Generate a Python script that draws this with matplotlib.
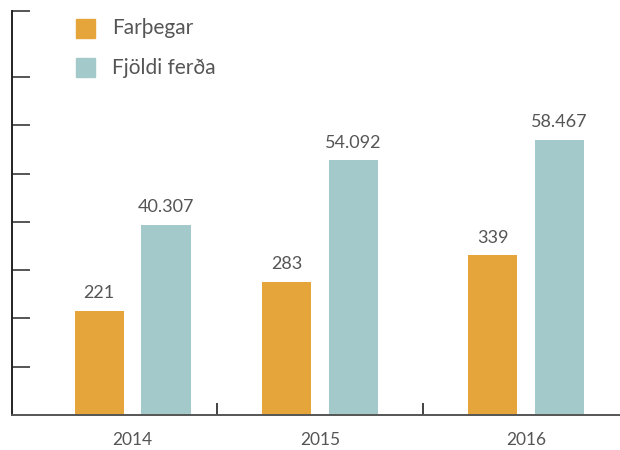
import numpy as np
import matplotlib
matplotlib.use('Agg')
import matplotlib.pyplot as plt
from matplotlib.patches import Rectangle

years = ['2014', '2015', '2016']
farthegar = [221, 283, 339]
ferdir = [40307, 54092, 58467]
series_names = ['Farþegar', 'Fjöldi ferða']

orange = '#e5a53a'
teal = '#a3c9ca'
txt = '#555555'

plt.rcParams['font.family'] = ['Lato', 'DejaVu Sans']

fig = plt.figure(figsize=(6.2, 4.5), dpi=100)
ax = fig.add_axes([12 / 620, 35 / 450, 608 / 620, 404 / 450])

x = np.arange(len(years)).astype(float)
x[0] += 0.09  # first group sits a bit right of its slot
w = 0.238
off = 0.1625

# trips are drawn in hundreds so both series share the axis
b1 = ax.bar(x - off, farthegar, w, color=orange)
b2 = ax.bar(x + off, [v / 100 for v in ferdir], w, color=teal)

for rect, v in zip(b1, farthegar):
    ax.annotate(str(v), (rect.get_x() + w / 2, rect.get_height()),
                xytext=(0, 7), textcoords='offset points', ha='center',
                va='bottom', fontsize=13, color=txt)
for rect, v in zip(b2, ferdir):
    ax.annotate(f'{v:,}'.replace(',', '.'), (rect.get_x() + w / 2, rect.get_height()),
                xytext=(0, 7), textcoords='offset points', ha='center',
                va='bottom', fontsize=13, color=txt)

ymax = 858
step = 102.5
ax.set_ylim(0, ymax)
ax.set_xlim(-0.495, 2.456)
ax.set_yticks(list(np.arange(1, 8) * step) + [ymax])
ax.set_yticklabels([])
ax.tick_params(axis='y', direction='in', length=13, width=1.4, color='#555555')
ax.set_xticks([0.5, 1.5])
ax.set_xticklabels([])
ax.tick_params(axis='x', direction='in', length=9, width=1.2, color='#222222')

for xi, yr in zip(x, years):
    ax.annotate(yr, (xi, 0), xytext=(0, -12), textcoords='offset points',
                ha='center', va='top', fontsize=12.5, color=txt,
                annotation_clip=False)

for s in ['top', 'right']:
    ax.spines[s].set_visible(False)
ax.spines['left'].set_color('#222222')
ax.spines['left'].set_linewidth(1.4)
ax.spines['bottom'].set_color('#555555')
ax.spines['bottom'].set_linewidth(1.4)

# legend
for i, (name, c) in enumerate(zip(series_names, [orange, teal])):
    top = 19 + i * 39
    fig.patches.append(Rectangle((76 / 620, 1 - (top + 19) / 450), 19 / 620, 19 / 450,
                                 transform=fig.transFigure, color=c))
    fig.text(112 / 620, 1 - (top + 9.5) / 450, name, ha='left', va='center',
             fontsize=15, color=txt)

fig.savefig('out.png', dpi=100)
